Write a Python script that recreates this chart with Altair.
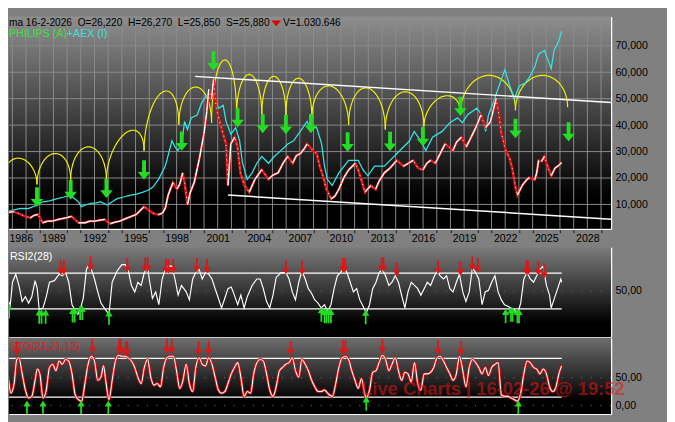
import altair as alt
import numpy as np
import pandas as pd

FONT = "Liberation Sans"
X_DOMAIN = [1985.753, 2029.73]
MAIN_Y = [767, 81067]
RSI_Y = [-1.35, 99.19]
STO_Y = [-15.68, 121.95]
W = 624

# ---------------- main panel data ----------------
phil_year = [1985.40, 1985.75, 1986.11, 1986.60, 1986.95, 1987.30, 1987.59, 1987.87, 1988.22, 1988.57,
             1988.93, 1989.42, 1989.91, 1990.33, 1990.62, 1990.83, 1991.32, 1991.67, 1992.03, 1992.38,
             1992.73, 1993.15, 1993.51, 1993.86, 1994.35, 1994.70, 1995.06, 1995.62, 1995.90, 1996.25,
             1996.68, 1996.96, 1997.17, 1997.38, 1997.73, 1998.02, 1998.23, 1998.44, 1998.58, 1998.79,
             1999.00, 1999.28, 1999.64, 1999.99, 2000.20, 2000.34, 2000.55, 2000.69, 2000.90, 2001.26,
             2001.61, 2001.75, 2001.96, 2002.24, 2002.45, 2002.66, 2002.95, 2003.30, 2003.72, 2004.22,
             2004.71, 2005.06, 2005.41, 2005.77, 2006.12, 2006.47, 2006.75, 2007.04, 2007.32, 2007.53,
             2007.95, 2008.23, 2008.45, 2008.73, 2008.94, 2009.29, 2009.57, 2009.85, 2010.21, 2010.56,
             2011.05, 2011.26, 2011.55, 2011.76, 2012.18, 2012.53, 2012.81, 2013.17, 2013.59, 2014.08,
             2014.58, 2014.93, 2015.28, 2015.63, 2015.99, 2016.27, 2016.55, 2016.90, 2017.25, 2017.61,
             2017.89, 2018.17, 2018.45, 2018.80, 2019.16, 2019.44, 2019.72, 2020.00, 2020.22, 2020.57,
             2020.92, 2021.13, 2021.34, 2021.55, 2021.69, 2022.05, 2022.33, 2022.54, 2022.75, 2022.89,
             2023.24, 2023.52, 2023.74, 2024.16, 2024.30, 2024.44, 2024.65, 2024.86, 2025.14, 2025.36,
             2025.64, 2025.85, 2026.12]
phil_value = [6240, 6970, 7340, 6240, 5510, 4890, 5880, 6240, 3070, 3690,
              3690, 4420, 4890, 5510, 4050, 3070, 3070, 3690, 3690, 4050,
              4310, 2700, 3320, 3690, 4780, 5510, 6240, 9160, 8070, 6720,
              6130, 6720, 8540, 13540, 18290, 15840, 17670, 21940, 18290, 9890,
              14640, 18290, 26790, 36540, 45040, 53580, 49930, 57230, 46390, 39090,
              32890, 17190, 32890, 35440, 31790, 21940, 17190, 14640, 19490, 23140,
              19490, 21210, 21940, 25590, 28140, 25590, 28510, 29240, 31060, 32890,
              30440, 29240, 24490, 20110, 15730, 12080, 13180, 15730, 20110, 23030,
              25590, 23030, 18290, 14640, 17190, 15730, 19020, 21940, 23760, 26680,
              24490, 25590, 26680, 23760, 23030, 25590, 26680, 25590, 29240, 32890,
              31790, 30330, 33620, 35440, 31790, 34710, 37630, 40920, 43840, 39090,
              41280, 45660, 50040, 43840, 37630, 30330, 27410, 23030, 16460, 13540,
              17190, 19020, 20110, 19380, 21940, 26680, 26320, 28140, 23760, 20840,
              23760, 24490, 25880]

aex_year = [1985.40, 1985.89, 1986.60, 1987.16, 1987.52, 1987.87, 1988.22, 1988.71, 1989.28, 1989.77,
            1990.12, 1990.48, 1990.83, 1991.04, 1991.39, 1991.74, 1992.10, 1992.45, 1992.94, 1993.29,
            1993.65, 1994.14, 1994.56, 1995.06, 1995.55, 1995.90, 1996.25, 1996.68, 1997.17, 1997.66,
            1997.88, 1998.09, 1998.37, 1998.58, 1998.79, 1999.07, 1999.50, 1999.85, 2000.20, 2000.48,
            2000.69, 2001.05, 2001.40, 2001.61, 2001.96, 2002.31, 2002.60, 2002.81, 2003.16, 2003.51,
            2003.86, 2004.22, 2004.71, 2005.13, 2005.63, 2006.12, 2006.54, 2007.04, 2007.53, 2007.74,
            2008.23, 2008.59, 2008.80, 2009.01, 2009.36, 2009.85, 2010.56, 2011.26, 2011.62, 2011.97,
            2012.46, 2013.17, 2013.59, 2014.29, 2015.00, 2015.35, 2015.84, 2016.20, 2016.69, 2017.39,
            2017.96, 2018.52, 2018.88, 2019.23, 2019.93, 2020.28, 2020.57, 2020.78, 2021.13, 2021.62,
            2021.98, 2022.33, 2022.68, 2023.03, 2023.46, 2023.81, 2024.16, 2024.44, 2024.86, 2025.36,
            2025.57, 2025.92, 2026.12]
aex_value = [6720, 7700, 8540, 8430, 9160, 9890, 10990, 11350, 12190, 12810,
             13430, 12450, 10990, 9160, 9890, 10370, 10620, 10990, 9780, 10990,
             12190, 12810, 13430, 13910, 14640, 15370, 16460, 19490, 24490, 34090,
             31790, 30440, 32890, 41390, 38360, 42740, 43840, 48690, 51140, 50040,
             52340, 46390, 47490, 41390, 36540, 39090, 34090, 25590, 19490, 21940,
             25590, 28140, 25590, 28140, 30440, 32890, 34090, 37740, 41390, 39090,
             39090, 32890, 24490, 19490, 17190, 21940, 26680, 26680, 23030, 20840,
             24490, 24490, 26680, 30330, 33980, 37630, 33980, 30330, 35440, 37630,
             40920, 42740, 40920, 43840, 46390, 43840, 37630, 43840, 48580, 55880,
             60990, 54790, 50040, 54790, 55880, 58440, 62090, 66830, 68290, 61360,
             68290, 71940, 75590]

# cycle arcs: cusp points and arc tops
arc_cusp_year = [1985.40, 1987.80, 1990.26, 1992.87, 1995.62, 1998.16, 2000.55, 2002.38, 2004.22,
                 2005.98, 2007.88, 2010.56, 2013.24, 2016.06, 2018.73, 2022.75, 2026.56]
arc_cusp_value = [20110, 17560, 19380, 19380, 30330, 40190, 40920, 43840, 43840,
                  43840, 42740, 40190, 38360, 39460, 44570, 45660, 46760]
arc_peak_value = [27410, 29240, 31790, 36900, 52230, 54420, 64640, 59170,
                  58440, 57710, 54790, 54060, 52600, 50770, 58800, 58800]

# green cycle arrows
arrow_year = [1987.80, 1990.26, 1992.87, 1995.62, 1998.37, 2000.69, 2002.45, 2004.29,
              2005.98, 2007.81, 2010.49, 2013.59, 2015.99, 2018.73, 2022.75, 2026.63]
arrow_value = [12810, 15550, 16100, 23030, 33980, 64280, 42740, 40550,
               40190, 40550, 33620, 33800, 35620, 47120, 38730, 37450]

# white trend channel
trend_x1 = [1999.35, 2001.75]
trend_y1 = [58440, 13540]
trend_x2 = [2029.73, 2029.73]
trend_y2 = [48580, 4420]

grid_years = list(range(1986, 2030))
grid_values = [10000, 20000, 30000, 40000, 50000, 60000, 70000]

# ---------------- RSI panel data ----------------
rsi_year = [1985.42, 1985.66, 1985.85, 1986.01, 1986.25, 1986.48, 1986.72, 1986.95, 1987.19, 1987.42,
            1987.66, 1987.82, 1987.96, 1988.24, 1988.48, 1988.71, 1989.07, 1989.42, 1989.65, 1989.89,
            1990.12, 1990.36, 1990.55, 1990.78, 1990.95, 1991.18, 1991.41, 1991.53, 1991.77, 1992.00,
            1992.24, 1992.47, 1992.71, 1993.06, 1993.29, 1993.65, 1994.00, 1994.23, 1994.47, 1994.70,
            1994.94, 1995.17, 1995.41, 1995.64, 1995.88, 1996.00, 1996.23, 1996.47, 1996.70, 1996.94,
            1997.17, 1997.41, 1997.64, 1997.88, 1998.11, 1998.35, 1998.70, 1998.93, 1999.17, 1999.40,
            1999.64, 1999.87, 2000.11, 2000.34, 2000.58, 2000.81, 2001.05, 2001.28, 2001.52, 2001.75,
            2001.99, 2002.22, 2002.46, 2002.69, 2002.93, 2003.16, 2003.51, 2003.86, 2004.10, 2004.33,
            2004.57, 2004.80, 2005.04, 2005.27, 2005.63, 2005.98, 2006.21, 2006.45, 2006.68, 2006.92,
            2007.15, 2007.39, 2007.62, 2007.86, 2008.09, 2008.33, 2008.56, 2008.80, 2009.03,
            2009.27, 2009.50, 2009.74, 2009.97, 2010.21, 2010.44, 2010.68, 2010.91, 2011.15, 2011.38,
            2011.62, 2011.85, 2012.09, 2012.32, 2012.56, 2012.79, 2013.03, 2013.26, 2013.50, 2013.73,
            2013.97, 2014.20, 2014.43, 2014.67, 2014.90, 2015.14, 2015.37, 2015.61, 2015.84, 2016.08,
            2016.31, 2016.55, 2016.78, 2017.02, 2017.25, 2017.49, 2017.72, 2017.96, 2018.19, 2018.43,
            2018.66, 2018.90, 2019.13, 2019.37, 2019.60, 2019.84, 2020.07, 2020.31, 2020.54, 2020.78,
            2021.01, 2021.25, 2021.48, 2021.72, 2021.95, 2022.19, 2022.42, 2022.66, 2022.89, 2023.13,
            2023.36, 2023.60, 2023.83, 2024.07, 2024.30, 2024.54, 2024.77, 2025.01, 2025.24, 2025.36,
            2025.59, 2025.83, 2026.06, 2026.12]
rsi_value = [50.9, 40.1, 34.7, 59.9, 68.9, 56.3, 38.3, 43.7, 36.5, 43.7,
             61.7, 52.7, 29.3, 31.1, 43.7, 59.9, 61.7, 68.9, 67.1, 70.7,
             59.9, 34.7, 29.3, 23.9, 29.3, 41.9, 74.3, 77.9, 74.3, 63.5,
             49.1, 36.5, 31.1, 23.9, 59.9, 72.5, 79.7, 79.7, 72.5, 56.3,
             49.1, 59.9, 56.3, 70.7, 76.1, 63.5, 41.9, 49.1, 34.7, 63.5,
             74.3, 77.9, 77.9, 63.5, 45.5, 56.3, 49.1, 40.1, 63.5, 70.7,
             74.3, 63.5, 70.7, 68.9, 63.5, 52.7, 41.9, 31.1, 41.9, 52.7,
             54.5, 45.5, 34.7, 45.5, 31.1, 43.7, 56.3, 63.5, 63.5, 52.7,
             38.3, 31.1, 45.5, 65.3, 70.7, 70.7, 63.5, 49.1, 40.1, 59.9,
             72.5, 63.5, 52.7, 47.3, 40.1, 36.5, 31.1, 34.7, 27.0,
             34.7, 52.7, 67.1, 70.7, 76.1, 70.7, 59.9, 49.1, 52.7, 40.1,
             32.9, 25.7, 34.7, 52.7, 59.9, 70.7, 74.3, 67.1, 56.3, 59.9,
             67.1, 59.9, 45.5, 31.1, 49.1, 59.9, 56.3, 52.7, 45.5, 52.7,
             59.9, 56.3, 65.3, 72.5, 67.1, 63.5, 67.1, 52.7, 49.1, 59.9,
             68.9, 49.1, 38.3, 49.1, 76.1, 70.7, 63.5, 34.7, 49.1, 50.9,
             59.9, 67.1, 49.1, 40.1, 34.7, 32.9, 31.1, 29.3, 23.9, 36.5,
             63.5, 70.7, 63.5, 59.9, 67.1, 74.3, 77.9, 56.3, 45.5, 31.1,
             41.9, 52.7, 63.5, 59.9]
rsi_levels = [70, 30]
rsi_dn_year = [1989.54, 1989.77, 1991.72, 1994.40, 1995.71, 1995.88, 1997.22, 1997.40, 1997.75,
               1999.47, 2000.22, 2005.98, 2007.16, 2010.14, 2010.28, 2012.97, 2013.11, 2014.08,
               2017.09, 2018.73, 2019.60, 2020.00, 2023.55, 2023.67, 2024.42, 2024.84]
rsi_dn_value = [76.2, 76.2, 80.8, 79.0, 79.7, 79.7, 77.9, 77.9, 77.9,
                78.9, 77.9, 77.0, 76.2, 79.0, 79.0, 79.7, 79.7, 74.3,
                77.0, 75.4, 80.8, 78.6, 76.2, 76.2, 75.4, 72.2]
rsi_up_year = [1985.77, 1987.96, 1988.13, 1988.43, 1990.40, 1990.55, 1990.95, 1991.11, 1993.06,
               2008.57, 2008.80, 2008.94, 2009.10, 2009.27, 2011.81, 2022.03, 2022.42, 2022.54,
               2022.89, 2023.01]
rsi_up_value = [27.5, 21.4, 21.4, 21.4, 23.0, 23.0, 25.7, 25.7, 20.3,
                23.8, 22.1, 22.1, 22.1, 22.1, 21.0, 22.1, 23.8, 23.8, 22.1, 22.1]

# ---------------- STO panel data ----------------
sto_year = [1985.42, 1985.66, 1985.89, 1986.13, 1986.32, 1986.48, 1986.72, 1986.95, 1987.19, 1987.42,
            1987.66, 1987.82, 1988.01, 1988.24, 1988.48, 1988.71, 1988.95, 1989.18, 1989.42, 1989.65,
            1989.89, 1990.12, 1990.36, 1990.59, 1990.83, 1991.06, 1991.30, 1991.53, 1991.77, 1992.00,
            1992.24, 1992.47, 1992.66, 1992.82, 1993.06, 1993.29, 1993.53, 1993.76, 1994.00, 1994.23,
            1994.47, 1994.70, 1994.94, 1995.17, 1995.41, 1995.64, 1995.88, 1996.11, 1996.35, 1996.58,
            1996.82, 1997.05, 1997.29, 1997.52, 1997.76, 1997.99, 1998.23, 1998.46, 1998.70, 1998.93,
            1999.17, 1999.40, 1999.64, 1999.87, 2000.11, 2000.34, 2000.58, 2000.81, 2001.05, 2001.28,
            2001.52, 2001.75, 2001.99, 2002.22, 2002.46, 2002.69, 2002.93, 2003.16, 2003.40, 2003.63,
            2003.86, 2004.10, 2004.33, 2004.57, 2004.80, 2005.04, 2005.27, 2005.51, 2005.74, 2005.98,
            2006.21, 2006.45, 2006.68, 2006.92, 2007.15, 2007.39, 2007.62, 2007.86, 2008.09, 2008.33,
            2008.56, 2008.80, 2009.03,
            2009.15, 2009.38, 2009.62, 2009.85, 2010.09, 2010.32, 2010.56, 2010.79, 2011.03, 2011.26,
            2011.50, 2011.73, 2011.85, 2012.09, 2012.32, 2012.56, 2012.79, 2013.03, 2013.26, 2013.50,
            2013.73, 2013.97, 2014.20, 2014.44, 2014.67, 2014.90, 2015.14, 2015.37, 2015.61, 2015.84,
            2016.08, 2016.31, 2016.55, 2016.78, 2017.02, 2017.25, 2017.49, 2017.72, 2017.96, 2018.19,
            2018.43, 2018.66, 2018.90, 2019.13, 2019.37, 2019.60, 2019.84, 2020.07, 2020.31, 2020.54,
            2020.78, 2021.01, 2021.25, 2021.48, 2021.72, 2021.95, 2022.19, 2022.42, 2022.66, 2022.89,
            2023.13, 2023.36, 2023.60, 2023.83, 2024.07, 2024.30, 2024.54, 2024.77, 2025.01, 2025.24,
            2025.48, 2025.71, 2025.95, 2026.12]
sto_value = [74.3, 56.9, 22.1, 39.5, 83.0, 85.9, 56.9, 27.9, 13.4, 16.3,
             45.3, 65.6, 56.9, 13.4, 27.9, 68.5, 74.3, 62.7, 80.1, 74.3,
             83.0, 80.1, 56.9, 19.2, 10.5, 7.6, 39.5, 74.3, 88.9, 80.1,
             45.3, 51.1, 71.4, 45.3, 10.5, 45.3, 80.1, 90.6, 88.9, 88.9,
             85.9, 80.1, 68.5, 51.1, 39.5, 68.5, 83.0, 51.1, 36.6, 39.5,
             33.7, 68.5, 85.9, 88.9, 88.9, 62.7, 30.8, 45.3, 74.3, 39.5,
             25.0, 68.5, 85.9, 74.3, 71.4, 85.9, 74.3, 51.1, 27.9, 22.1,
             25.0, 39.5, 56.9, 68.5, 77.2, 51.1, 16.3, 25.0, 22.1, 56.9,
             77.2, 83.0, 80.1, 56.9, 27.9, 16.3, 33.7, 62.7, 68.5, 74.3,
             77.2, 85.9, 62.7, 51.1, 83.0, 74.3, 62.7, 45.3, 33.7, 25.0,
             25.0, 27.9, 22.1,
             19.2, 16.3, 39.5, 68.5, 85.9, 88.9, 83.0, 62.7, 45.3, 30.8,
             48.2, 22.1, 13.4, 27.9, 59.8, 62.7, 77.2, 90.6, 83.0, 62.7,
             74.3, 85.9, 62.7, 45.3, 59.8, 56.9, 42.4, 77.2, 39.5, 27.9,
             56.9, 56.9, 59.8, 68.5, 85.9, 88.9, 80.1, 68.5, 56.9, 45.3,
             56.9, 88.9, 62.7, 33.7, 68.5, 83.0, 77.2, 68.5, 56.9, 68.5,
             54.0, 68.5, 74.3, 77.2, 19.2, 16.3, 16.3, 13.4, 10.5, 7.6,
             22.1, 56.9, 80.1, 77.2, 68.5, 65.6, 56.9, 65.6, 56.9, 33.7,
             25.0, 33.7, 59.8, 71.4]
sto_levels = [85, 15]
sto_dn_year = [1986.32, 1991.84, 1993.81, 1993.93, 1994.30, 1994.40, 1997.29, 1997.64,
               1999.59, 2000.34, 2006.33, 2010.14, 2010.33, 2013.03, 2017.09, 2018.78]
sto_dn_value = [103.3, 106.3, 106.3, 106.3, 102.3, 102.3, 106.3, 106.3,
                103.3, 103.3, 103.3, 104.9, 104.9, 106.3, 104.9, 103.3]
sto_up_year = [1987.07, 1988.24, 1991.02, 1993.01, 2011.85, 2022.96]
sto_up_value = [-4, -4, -4, -4, 3.5, -4]

band_start, band_end = 1985.40, 2026.13

# ---------------- helpers ----------------
ARROW_BIG = "M-0.2,-1L0.2,-1L0.2,0.2L0.65,0.2L0,1L-0.65,0.2L-0.2,0.2Z"
ARROW_DN = "M-0.12,-1L0.12,-1L0.12,0.15L0.5,0.15L0,1L-0.5,0.15L-0.12,0.15Z"
ARROW_UP = "M-0.12,1L0.12,1L0.12,-0.15L0.5,-0.15L0,-1L-0.5,-0.15L-0.12,-0.15Z"
RED = "#e01414"
GREEN = "#22dd22"
one = pd.DataFrame({"k": [0]})


def xy(x, y):
    return pd.DataFrame({"x": x, "y": y})


def background(top, black_at):
    grad = alt.LinearGradient(
        gradient="linear",
        stops=[alt.GradientStop(color=top, offset=0),
               alt.GradientStop(color="#000000", offset=black_at),
               alt.GradientStop(color="#000000", offset=1)],
        x1=0, x2=0, y1=0, y2=1)
    return alt.Chart(one).mark_rect(fill=grad).encode(
        x=alt.value(0), x2=alt.value("width"), y=alt.value(0), y2=alt.value("height"))


def label(text, x, y, color, size=11, **kw):
    return alt.Chart(one).mark_text(text=text, align="left", baseline="alphabetic", font=FONT,
                                    fontSize=size, color=color, **kw).encode(
        x=alt.value(x), y=alt.value(y))


def rising_pieces(xs, ys):
    """Rising stretches of the series (drawn white over the red trace)."""
    rows = []
    seg = 0
    for i in range(len(xs) - 1):
        if ys[i + 1] >= ys[i]:
            rows.append({"x": xs[i], "y": ys[i], "seg": seg, "o": 0})
            rows.append({"x": xs[i + 1], "y": ys[i + 1], "seg": seg, "o": 1})
            seg += 1
    return pd.DataFrame(rows)


xscale = alt.Scale(domain=X_DOMAIN, nice=False, zero=False)

# ---------------- main panel ----------------
main_x_axis = alt.Axis(
    values=grid_years, format="d",
    labelExpr="(datum.value - 1986) % 3 == 0 ? datum.label : ''",
    grid=False, ticks=True, tickSize=4, tickColor="#202020",
    tickOpacity={"condition": {"test": "(datum.value - 1986) % 3 == 0", "value": 0}, "value": 1},
    domain=True, domainColor="white", domainWidth=1.5,
    labelPadding=0, labelFlush=10, labelFlushOffset=3.5, labelOverlap=False,
    labelFontSize=11, labelColor="black", labelFont=FONT, title=None)
main_y_axis = alt.Axis(
    orient="right", values=grid_values, format=",d", grid=False, ticks=False, tickSize=0,
    domain=True, domainColor="white", domainWidth=1.5, labelPadding=4,
    labelFontSize=11, labelColor="black", labelFont=FONT, title=None)

X = alt.X("x:Q", scale=xscale, axis=main_x_axis)
Y = alt.Y("y:Q", scale=alt.Scale(domain=MAIN_Y, nice=False, zero=False), axis=main_y_axis)

arc_rows = []
for i in range(len(arc_peak_value)):
    x0, x1 = arc_cusp_year[i], arc_cusp_year[i + 1]
    y0, y1 = arc_cusp_value[i], arc_cusp_value[i + 1]
    top = arc_peak_value[i] - (y0 + y1) / 2
    for j, t in enumerate(np.linspace(0, np.pi, 41)):
        s = (1 - np.cos(t)) / 2
        arc_rows.append({"x": x0 + (x1 - x0) * s, "y": y0 + (y1 - y0) * s + top * np.sin(t),
                         "arc": i, "o": j})
arcs = pd.DataFrame(arc_rows)

phil_up = rising_pieces(phil_year, phil_value)

main = alt.layer(
    background("#8e8e8e", 0.85),
    alt.Chart(pd.DataFrame({"x": grid_years})).mark_rule(color="#8c8c8c", strokeWidth=1).encode(x=X),
    alt.Chart(pd.DataFrame({"y": grid_values})).mark_rule(color="#8c8c8c", strokeWidth=1).encode(y=Y),
    alt.Chart(arcs).mark_line(color="#f2f200", strokeWidth=1.2, clip=True).encode(
        x=X, y=Y, detail="arc:N", order="o:Q"),
    alt.Chart(xy(aex_year, aex_value)).mark_line(color="#33e6e6", strokeWidth=1.3, clip=True).encode(x=X, y=Y),
    alt.Chart(xy(phil_year, phil_value)).mark_line(color=RED, strokeWidth=2.6, clip=True).encode(x=X, y=Y),
    alt.Chart(xy(phil_year, phil_value)).mark_line(color="white", strokeWidth=1, strokeDash=[1, 4],
                                                   clip=True).encode(x=X, y=Y),
    alt.Chart(phil_up).mark_line(color="white", strokeWidth=1.4, clip=True).encode(
        x=X, y=Y, detail="seg:N", order="o:Q"),
    alt.Chart(pd.DataFrame({"x": trend_x1, "y": trend_y1, "x2": trend_x2, "y2": trend_y2})).mark_rule(
        color="white", strokeWidth=1.5, clip=True).encode(x=X, y=Y, x2="x2:Q", y2="y2:Q"),
    alt.Chart(xy(arrow_year, arrow_value)).mark_point(
        shape=ARROW_BIG, size=400, filled=True, color=GREEN, opacity=1, clip=True).encode(x=X, y=Y),
    label("ma 16-2-2026\u00a0\u00a0O=26,220\u00a0\u00a0H=26,270\u00a0\u00a0L=25,850\u00a0\u00a0S=25,880",
          0, 10, "black", size=10.5),
    alt.Chart(one).mark_point(shape="M-1,-0.6L1,-0.6L0,0.6Z", size=100, filled=True, color="#e00000",
                              opacity=1).encode(x=alt.value(277), y=alt.value(7)),
    label("V=1.030.646", 284, 10, "black", size=10.5),
    label("PHILIPS (A)", 0, 21, "#3fe03f"),
    label("+AEX (I)", 60, 21, "#3fe0e0"),
).properties(width=W, height=220)

# ---------------- RSI panel ----------------
sub_x_axis = alt.Axis(labels=False, ticks=False, grid=False, domain=True, domainColor="white",
                      domainWidth=1, title=None)
XR = alt.X("x:Q", scale=xscale, axis=sub_x_axis)


def sub_y(domain, values):
    return alt.Y("y:Q", scale=alt.Scale(domain=domain, nice=False, zero=False),
                 axis=alt.Axis(orient="right", values=values,
                               labelExpr="replace(format(datum.value, '.2f'), '.', ',')",
                               grid=False, ticks=False, tickSize=0, domain=True, domainColor="white",
                               domainWidth=1.5, labelPadding=4, labelFontSize=11, labelColor="black",
                               labelFont=FONT, title=None))


YR = sub_y(RSI_Y, [50])
rsi = alt.layer(
    background("#7c7c7c", 0.84),
    alt.Chart(pd.DataFrame({"y": [50]})).mark_rule(color="#6a6a6a", strokeDash=[1, 9]).encode(y=YR),
    alt.Chart(pd.DataFrame({"y": rsi_levels, "x": band_start, "x2": band_end})).mark_rule(
        color="white", strokeWidth=1.3, clip=True).encode(x=XR, x2="x2:Q", y=YR),
    alt.Chart(xy(rsi_year, rsi_value)).mark_line(color="white", strokeWidth=1.2, clip=True).encode(x=XR, y=YR),
    alt.Chart(xy(rsi_dn_year, rsi_dn_value)).mark_point(
        shape=ARROW_DN, size=225, filled=True, color=RED, opacity=1, clip=True).encode(x=XR, y=YR),
    alt.Chart(xy(rsi_up_year, rsi_up_value)).mark_point(
        shape=ARROW_UP, size=225, filled=True, color=GREEN, opacity=1, clip=True).encode(x=XR, y=YR),
    label("RSI2(28)", 1, 13, "white"),
).properties(width=W, height=93)

# ---------------- STO panel ----------------
YS = sub_y(STO_Y, [0, 50])
sto = alt.layer(
    background("#6e6e6e", 0.81),
    alt.Chart(pd.DataFrame({"y": [0, 50]})).mark_rule(color="#7a7a7a", strokeDash=[1, 9]).encode(y=YS),
    alt.Chart(pd.DataFrame({"y": sto_levels, "x": band_start, "x2": band_end})).mark_rule(
        color="white", strokeWidth=1.3, clip=True).encode(x=XR, x2="x2:Q", y=YS),
    alt.Chart(xy(sto_year, sto_value)).mark_line(color="#d01010", strokeWidth=3, interpolate="monotone",
                                                 clip=True).encode(x=XR, y=YS),
    alt.Chart(xy(sto_year, sto_value)).mark_line(color="white", strokeWidth=1.1, interpolate="monotone",
                                                 clip=True).encode(x=XR, y=YS),
    alt.Chart(xy(sto_dn_year, sto_dn_value)).mark_point(
        shape=ARROW_DN, size=225, filled=True, color=RED, opacity=1, clip=True).encode(x=XR, y=YS),
    alt.Chart(xy(sto_up_year, sto_up_value)).mark_point(
        shape=ARROW_UP, size=225, filled=True, color=GREEN, opacity=1, clip=True).encode(x=XR, y=YS),
    label("STO(21,21,12)", 1, 13, "#e02020"),
    label("Live Charts | 16-02-26 @ 19:52", 365, 59, "#e01818", size=19, fontWeight="bold", opacity=0.55),
).properties(width=W, height=79)

lower = alt.vconcat(rsi, sto, spacing=1, bounds="flush")
chart = alt.vconcat(main, lower, spacing=19, bounds="flush").properties(
    background="#808080",
    padding={"left": 0, "top": 0, "right": 20, "bottom": 20},
).configure_view(stroke=None)

chart.save("out.html", embed_options={"renderer": "svg", "actions": False})
